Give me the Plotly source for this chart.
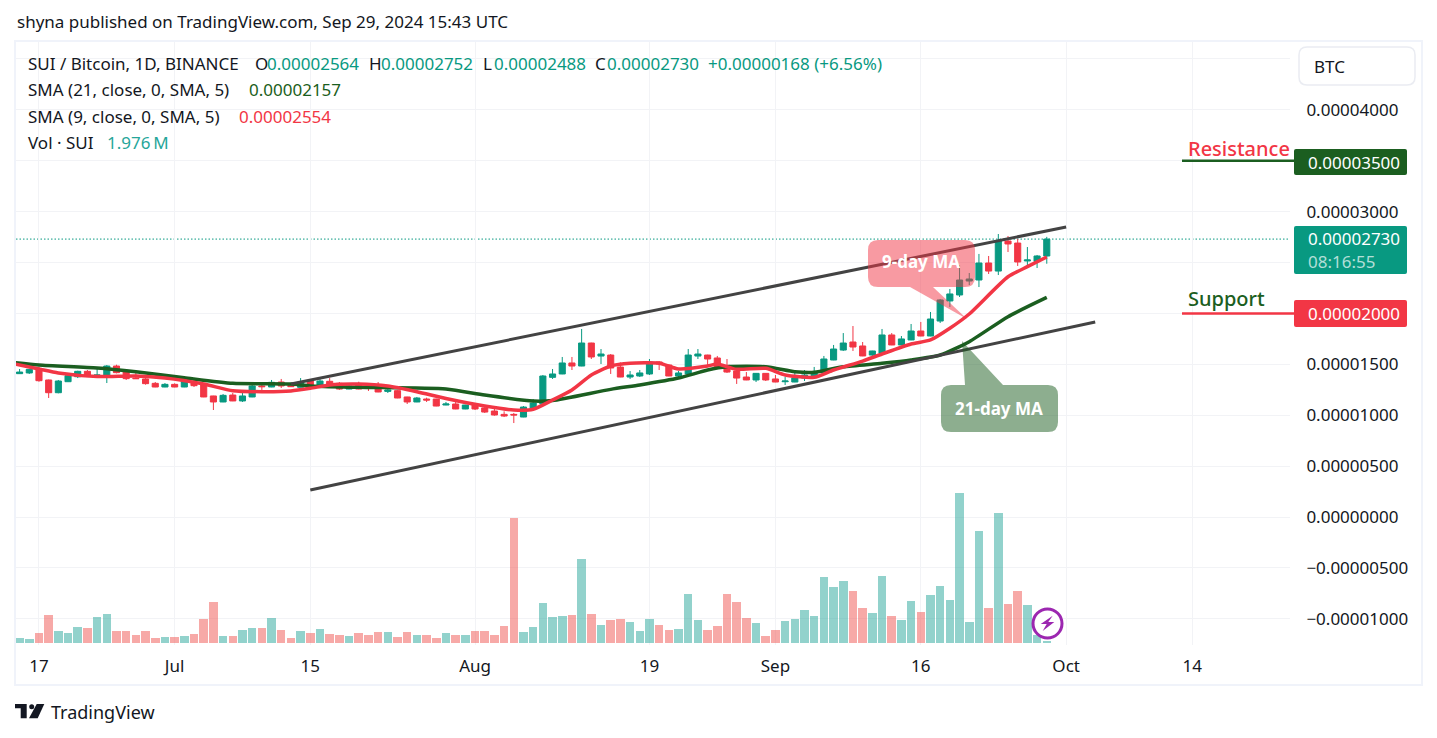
import pandas as pd
import plotly.graph_objects as go

# prices in satoshi (1e-8 BTC), daily candles starting at Jun 15 2024
start_date = "2024-06-15"
opens = [1408, 1415, 1460, 1346, 1221, 1329, 1378, 1431, 1385, 1388, 1483, 1424, 1365, 1356, 1313, 1277, 1303, 1277,
         1329, 1297, 1189, 1130, 1198, 1140, 1179, 1287, 1277, 1326, 1293, 1274, 1336, 1297, 1333, 1313, 1257, 1307,
         1277, 1280, 1234, 1241, 1179, 1130, 1159, 1159, 1100, 1110, 1061, 1103, 1071, 1041, 1008, 1008, 982, 1061,
         1110, 1372, 1405, 1513, 1483, 1709, 1581, 1591, 1473, 1375, 1385, 1405, 1523, 1493, 1385, 1405, 1581, 1591,
         1562, 1490, 1434, 1375, 1346, 1411, 1356, 1329, 1326, 1365, 1385, 1415, 1542, 1640, 1719, 1680, 1591, 1608,
         1788, 1690, 1739, 1827, 1778, 1925, 2122, 2181, 2318, 2328, 2495, 2416, 2711, 2691, 2515, 2511, 2564]
highs = [1454, 1454, 1477, 1350, 1346, 1405, 1437, 1444, 1470, 1493, 1496, 1431, 1418, 1365, 1326, 1316, 1313, 1359,
         1346, 1313, 1191, 1208, 1218, 1218, 1303, 1303, 1346, 1356, 1307, 1365, 1346, 1362, 1365, 1326, 1297, 1329,
         1290, 1326, 1277, 1248, 1181, 1179, 1172, 1161, 1130, 1130, 1102, 1110, 1080, 1061, 1038, 1022, 1090, 1159,
         1395, 1454, 1572, 1572, 1847, 1712, 1650, 1601, 1519, 1434, 1444, 1552, 1532, 1495, 1434, 1650, 1650, 1594,
         1582, 1552, 1436, 1424, 1413, 1413, 1395, 1375, 1424, 1444, 1474, 1582, 1690, 1807, 1876, 1719, 1633, 1847,
         1807, 1778, 1896, 1916, 2014, 2141, 2240, 2475, 2397, 2584, 2564, 2780, 2760, 2731, 2652, 2574, 2752]
lows = [1405, 1405, 1329, 1169, 1215, 1326, 1365, 1375, 1378, 1316, 1411, 1346, 1356, 1300, 1275, 1275, 1274, 1275,
        1277, 1177, 1051, 1128, 1138, 1130, 1177, 1248, 1275, 1267, 1277, 1272, 1257, 1295, 1297, 1248, 1255, 1254,
        1238, 1226, 1218, 1167, 1110, 1128, 1130, 1088, 1098, 1059, 1059, 1051, 1022, 995, 982, 923, 980, 1058,
        1108, 1356, 1403, 1444, 1481, 1552, 1503, 1405, 1373, 1356, 1375, 1395, 1444, 1383, 1372, 1403, 1552, 1493,
        1462, 1415, 1307, 1344, 1326, 1336, 1324, 1297, 1324, 1336, 1383, 1413, 1540, 1631, 1631, 1580, 1552, 1606,
        1688, 1688, 1737, 1776, 1776, 1906, 2063, 2161, 2279, 2259, 2387, 2377, 2603, 2466, 2456, 2446, 2488]
closes = [1424, 1450, 1339, 1221, 1336, 1388, 1431, 1382, 1395, 1483, 1418, 1359, 1359, 1310, 1277, 1303, 1277, 1333,
          1290, 1179, 1130, 1195, 1140, 1189, 1287, 1280, 1323, 1287, 1280, 1326, 1297, 1336, 1300, 1257, 1287, 1257,
          1270, 1228, 1248, 1169, 1130, 1169, 1149, 1090, 1110, 1061, 1100, 1061, 1031, 1002, 992, 1002, 1080, 1120,
          1385, 1405, 1513, 1483, 1709, 1572, 1601, 1464, 1375, 1395, 1415, 1523, 1503, 1385, 1415, 1591, 1601, 1552,
          1464, 1424, 1365, 1346, 1411, 1346, 1326, 1336, 1365, 1395, 1424, 1552, 1650, 1709, 1670, 1582, 1631, 1788,
          1690, 1749, 1827, 1778, 1945, 2132, 2191, 2328, 2338, 2495, 2416, 2711, 2682, 2505, 2525, 2564, 2730]
volumes = [4.2, 3.4, 8.5, 23.8, 10.2, 8.5, 13.6, 12.7, 22.1, 24.6, 10.2, 10.2, 6.8, 10.2, 4.2, 5.1, 5.1, 5.9,
           7.6, 20.4, 34.8, 5.9, 5.9, 11.0, 12.7, 12.7, 21.2, 11.0, 4.2, 10.2, 8.5, 11.9, 7.6, 6.8, 5.9, 8.5,
           6.8, 9.3, 9.3, 5.1, 9.3, 6.8, 6.8, 4.2, 8.5, 6.8, 6.8, 10.2, 10.2, 6.8, 14.4, 106.2, 9.3, 13.6,
           34.0, 22.1, 22.9, 23.8, 71.4, 24.6, 15.3, 19.5, 20.4, 17.8, 10.2, 20.4, 15.3, 11.0, 11.9, 41.6, 19.5, 11.0,
           14.4, 41.6, 34.8, 21.2, 17.0, 5.9, 11.0, 18.7, 20.4, 28.0, 22.9, 56.1, 47.6, 52.7, 44.2, 29.7, 25.5, 56.9,
           22.9, 19.5, 35.7, 26.3, 40.8, 48.4, 36.5, 127.5, 17.8, 95.2, 29.7, 110.5, 33.1, 44.2, 32.3, 6.8, 1.976]

# moving averages: day offset from start_date, value in satoshi
ma21_days = [-1, 2, 8, 12, 17, 22, 28, 30, 35, 44, 48, 53, 55, 61, 64, 68, 71, 73, 77, 80, 82, 85, 89, 92, 95, 98, 102, 106]
ma21_vals = [1523, 1493, 1464, 1427, 1368, 1313, 1306, 1287, 1274, 1257, 1198, 1139, 1144, 1254, 1297, 1365, 1444, 1476,
             1476, 1427, 1421, 1476, 1510, 1542, 1591, 1722, 1968, 2157]
ma9_days = [-1, 2, 4, 8, 12, 15, 19, 22, 25, 28, 30, 32, 35, 38, 41, 44, 48, 51, 53, 55, 57, 59, 61, 63, 66, 68, 71, 72,
            74, 77, 79, 82, 84, 87, 89, 92, 94, 96, 98, 102, 104, 106]
ma9_vals = [1513, 1454, 1415, 1380, 1385, 1365, 1306, 1241, 1231, 1238, 1264, 1297, 1306, 1287, 1231, 1164, 1090, 1051,
            1058, 1149, 1248, 1395, 1483, 1510, 1510, 1454, 1483, 1503, 1451, 1461, 1395, 1372, 1444, 1532, 1601, 1699,
            1739, 1854, 1994, 2360, 2459, 2554]

# channel drawn on the chart
upper_dates = ["2024-07-13", "2024-10-01"]
upper_vals = [1306, 2849]
lower_dates = ["2024-07-15", "2024-10-04"]
lower_vals = [265, 1915]

time_ticks = ["2024-06-17", "2024-07-01", "2024-07-15", "2024-08-01", "2024-08-19", "2024-09-01", "2024-09-16",
              "2024-10-01", "2024-10-14"]
time_labels = ["17", "Jul", "15", "Aug", "19", "Sep", "16", "Oct", "14"]
price_ticks = [4500, 4000, 3500, 3000, 2500, 2000, 1500, 1000, 500, 0, -500, -1000]
price_labels = ["", "0.00004000", "", "0.00003000", "", "", "0.00001500", "0.00001000", "0.00000500", "0.00000000",
                "−0.00000500", "−0.00001000"]

FONT = "Noto Sans"
INK = "#131722"
UP = "#089981"
DOWN = "#F23645"
MA_GREEN = "#1B5E20"
GRID = "#F2F3F6"
FIG_W, FIG_H = 1419, 720
PLOT_L, PLOT_R, PLOT_T, PLOT_B = 16, 1290, 42, 645


def sats(vals):
    return [round(v * 1e-8, 8) for v in vals]


def day_dates(days):
    return pd.Timestamp(start_date) + pd.to_timedelta(days, unit="D")


def fx(x):
    return (x - PLOT_L) / (PLOT_R - PLOT_L)


def fy(y):
    return (PLOT_B - y) / (PLOT_B - PLOT_T)


def rounded_path(x0, y0, x1, y1, r, tail=None):
    # rounded box, optional tail = (edge y, [points]) spliced into the bottom or top edge
    pts = [f"M{fx(x0 + r)},{fy(y0)}"]
    if tail and tail[0] == "top":
        pts += [f"L{fx(a)},{fy(b)}" for a, b in tail[1]]
    pts += [f"L{fx(x1 - r)},{fy(y0)}", f"Q{fx(x1)},{fy(y0)} {fx(x1)},{fy(y0 + r)}",
            f"L{fx(x1)},{fy(y1 - r)}", f"Q{fx(x1)},{fy(y1)} {fx(x1 - r)},{fy(y1)}"]
    if tail and tail[0] == "bottom":
        pts += [f"L{fx(a)},{fy(b)}" for a, b in tail[1]]
    pts += [f"L{fx(x0 + r)},{fy(y1)}", f"Q{fx(x0)},{fy(y1)} {fx(x0)},{fy(y1 - r)}",
            f"L{fx(x0)},{fy(y0 + r)}", f"Q{fx(x0)},{fy(y0)} {fx(x0 + r)},{fy(y0)}", "Z"]
    return " ".join(pts)


def poly_path(points):
    return "M" + " L".join(f"{fx(a)},{fy(b)}" for a, b in points) + " Z"


def box(path, fill, line=None, width=0, layer="above"):
    return dict(type="path", xref="paper", yref="paper", path=path, fillcolor=fill, layer=layer,
                line=dict(color=line or "rgba(0,0,0,0)", width=width))


def label(text, x, y, color=INK, size=17, anchor="left", weight=None):
    return dict(text=text, xref="paper", yref="paper", x=fx(x), y=fy(y), xanchor=anchor, yanchor="middle",
                showarrow=False, borderpad=0, font=dict(family=FONT, size=size, color=color, weight=weight))


dates = pd.date_range(start_date, periods=len(opens), freq="D")
bar_colors = ["rgba(38,166,154,0.5)" if c >= o else "rgba(239,83,80,0.5)" for o, c in zip(opens, closes)]

fig = go.Figure()
fig.add_trace(go.Bar(x=dates, y=volumes, marker=dict(color=bar_colors, line_width=0), width=0.88 * 86400000,
                     yaxis="y"))
fig.add_trace(go.Candlestick(x=dates, open=sats(opens), high=sats(highs), low=sats(lows), close=sats(closes),
                             yaxis="y2", whiskerwidth=0,
                             increasing=dict(line=dict(color=UP, width=1), fillcolor=UP),
                             decreasing=dict(line=dict(color=DOWN, width=1), fillcolor=DOWN)))
fig.add_trace(go.Scatter(x=day_dates(ma21_days), y=sats(ma21_vals), mode="lines", yaxis="y2",
                         line=dict(color=MA_GREEN, width=3.5, shape="spline", smoothing=0.6)))
fig.add_trace(go.Scatter(x=day_dates(ma9_days), y=sats(ma9_vals), mode="lines", yaxis="y2",
                         line=dict(color=DOWN, width=3.5, shape="spline", smoothing=0.6)))
fig.add_trace(go.Scatter(x=upper_dates, y=sats(upper_vals), mode="lines", yaxis="y2",
                         line=dict(color="#434343", width=3)))
fig.add_trace(go.Scatter(x=lower_dates, y=sats(lower_vals), mode="lines", yaxis="y2",
                         line=dict(color="#434343", width=3)))

shapes = [
    # chart frame
    dict(type="rect", xref="paper", yref="paper", x0=fx(15), x1=fx(1422), y0=fy(41), y1=fy(685),
         line=dict(color="#F0F3FA", width=2), layer="below"),
    # last price line
    dict(type="line", xref="paper", yref="y2", x0=0, x1=1, y0=closes[-1] * 1e-8, y1=closes[-1] * 1e-8,
         line=dict(color=UP, width=1, dash="1.5px,2px"), layer="below"),
    # resistance and support drawings
    dict(type="line", xref="paper", yref="y2", x0=fx(1182), x1=fx(1294), y0=3500e-8, y1=3500e-8,
         line=dict(color=MA_GREEN, width=2.5)),
    dict(type="line", xref="paper", yref="y2", x0=fx(1182), x1=fx(1294), y0=2000e-8, y1=2000e-8,
         line=dict(color=DOWN, width=2.5)),
    # callouts
    box(rounded_path(868, 240, 975, 287, 10, ("bottom", [(933, 287), (967, 319), (910, 287)])),
        "rgba(242,54,69,0.5)"),
    box(rounded_path(941, 385, 1058, 432, 10, ("top", [(965, 385), (962, 341), (1003, 385)])),
        "rgba(27,94,32,0.5)"),
    # price tags
    box(rounded_path(1294, 149, 1407, 175, 2), MA_GREEN),
    box(rounded_path(1294, 226, 1407, 274, 2), UP),
    box(rounded_path(1294, 300, 1407, 327, 2), DOWN),
    # currency button
    box(rounded_path(1299, 47, 1415, 85, 8), "white", line="#EAECF2", width=1.5),
    # snapshot badge
    dict(type="circle", xref="paper", yref="paper", x0=fx(1033), x1=fx(1062), y0=fy(609), y1=fy(638),
         fillcolor="rgba(255,255,255,0.85)", line=dict(color="#9C27B0", width=3)),
    box(poly_path([(1052.7, 615.7), (1040.7, 624), (1046.7, 624), (1042.7, 631), (1054.3, 622), (1048.3, 622)]),
        "#9C27B0"),
    # logo
    box(poly_path([(15, 704), (26.7, 704), (26.7, 718.3), (20.7, 718.3), (20.7, 708.3), (15, 708.3)]), INK),
    dict(type="circle", xref="paper", yref="paper", x0=fx(29.2), x1=fx(34.2), y0=fy(704.2), y1=fy(709.2),
         fillcolor=INK, line_width=0),
    box(poly_path([(36.7, 704), (44.3, 704), (37.7, 718.3), (29, 718.3)]), INK),
]

annotations = [
    label("shyna published on TradingView.com, Sep 29, 2024 15:43 UTC", 16, 22),
    label("SUI / Bitcoin, 1D, BINANCE", 27, 64),
    label("O", 254, 64), label("0.00002564", 266, 64, UP),
    label("H", 368, 64), label("0.00002752", 380, 64, UP),
    label("L", 482, 64), label("0.00002488", 493, 64, UP),
    label("C", 594, 64), label("0.00002730", 606, 64, UP),
    label("+0.00000168 (+6.56%)", 707, 64, UP),
    label("SMA (21, close, 0, SMA, 5)", 27, 90), label("0.00002157", 248, 90, MA_GREEN),
    label("SMA (9, close, 0, SMA, 5)", 27, 116), label("0.00002554", 238, 116, DOWN),
    label("Vol · SUI", 27, 142), label("1.976\u202fM", 106, 142, "#26A69A"),
    label("BTC", 1313, 66),
    label("Resistance", 1187, 148, DOWN, 20, weight=500),
    label("Support", 1187, 298, MA_GREEN, 20, weight=500),
    label("0.00003500", 1307, 162, "white"),
    label("0.00002730", 1307, 239, "white"),
    label("08:16:55", 1307, 261, "rgba(255,255,255,0.7)"),
    label("0.00002000", 1307, 314, "white"),
    label("9-day MA", 921, 261, "white", 17, "center", "bold"),
    label("21-day MA", 999, 408, "white", 17, "center", "bold"),
    label("TradingView", 50, 712, INK, 18),
]

fig.update_layout(
    width=FIG_W, height=FIG_H, autosize=False,
    margin=dict(l=PLOT_L - 8, r=FIG_W - (PLOT_R - 8), t=PLOT_T - 8, b=FIG_H - (PLOT_B - 8)),
    paper_bgcolor="white", plot_bgcolor="white",
    showlegend=False, hovermode=False, bargap=0, boxgap=0.1, boxgroupgap=0.3,
    font=dict(family=FONT, size=17, color=INK),
    shapes=shapes, annotations=annotations,
    xaxis=dict(type="date", range=["2024-06-14 15:07", "2024-10-24 02:24"], rangeslider=dict(visible=False),
               tickmode="array", tickvals=time_ticks, ticktext=time_labels, tickangle=0,
               showgrid=True, gridcolor=GRID, gridwidth=1, zeroline=False, showline=False,
               ticks="outside", ticklen=6, tickcolor="rgba(0,0,0,0)", tickfont=dict(family=FONT, size=17, color=INK)),
    yaxis=dict(range=[-1.7, 510.85], visible=False, showgrid=False, zeroline=False),
    yaxis2=dict(overlaying="y", side="right", range=[-1257.3e-8, 4666e-8],
                tickmode="array", tickvals=sats(price_ticks), ticktext=price_labels,
                showgrid=True, gridcolor=GRID, gridwidth=1, zeroline=False, showline=False,
                ticks="outside", ticklen=12, tickcolor="rgba(0,0,0,0)",
                tickfont=dict(family=FONT, size=17, color=INK)),
)

fig.write_html("out.html")
